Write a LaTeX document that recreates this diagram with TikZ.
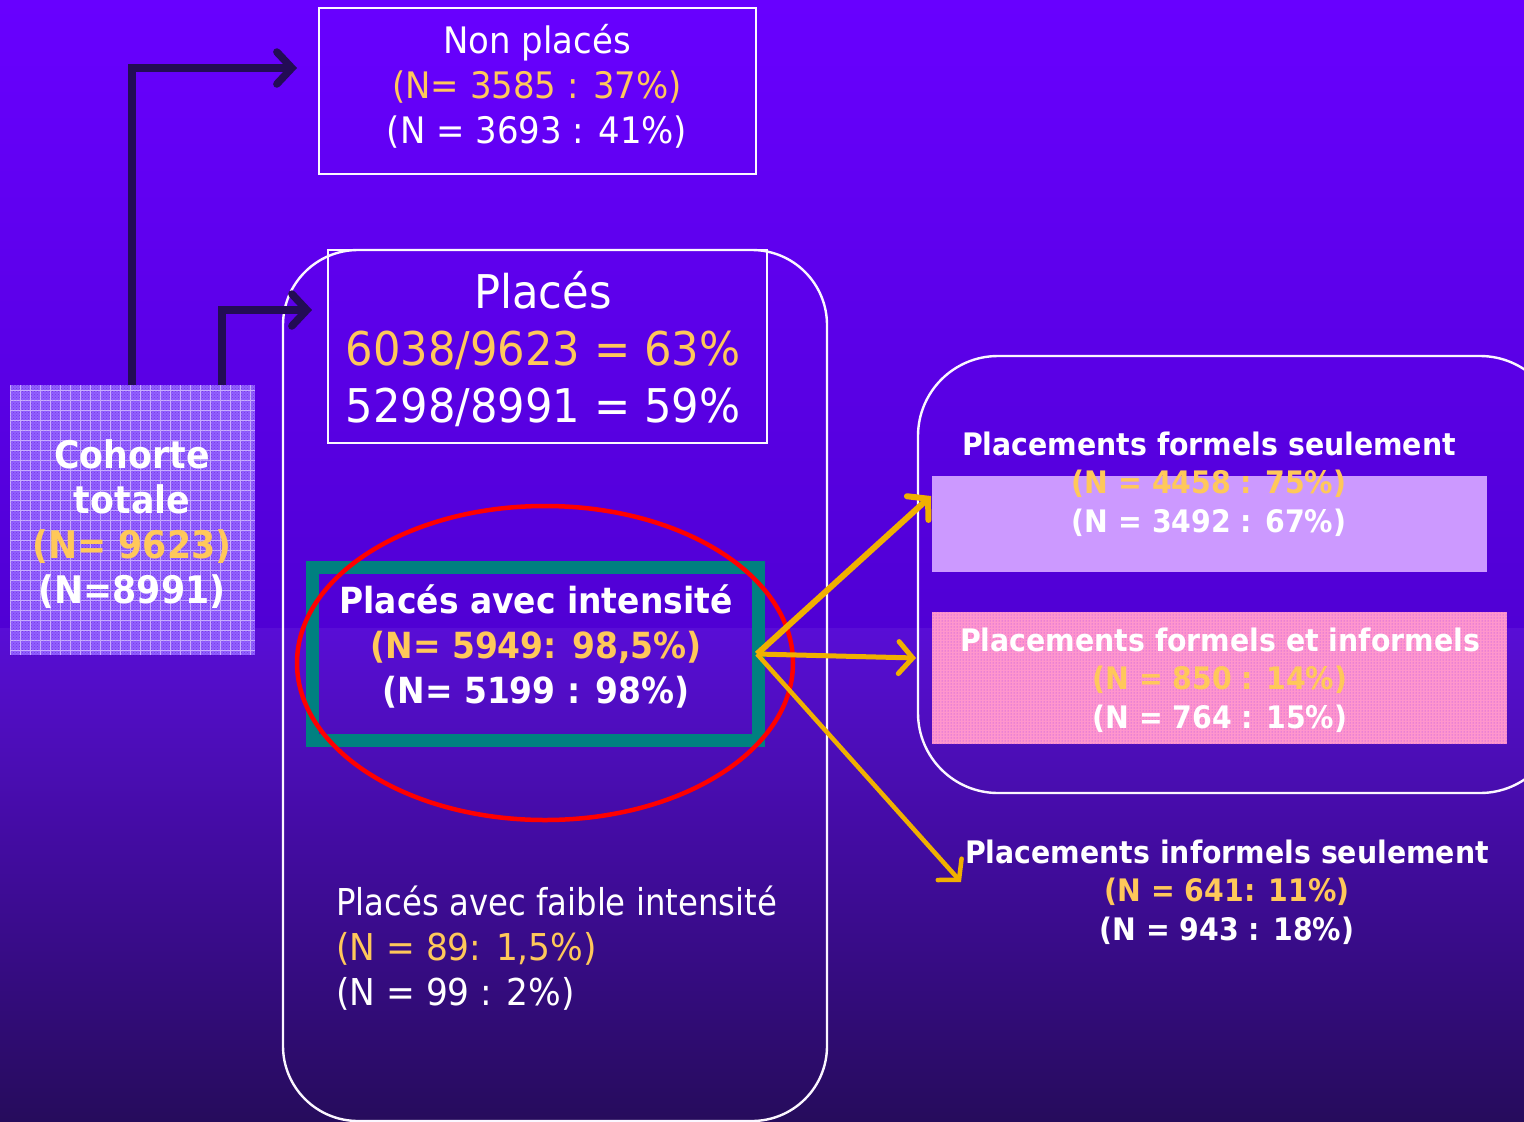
\documentclass[tikz,border=0pt]{standalone}
\usepackage{fontspec}
\setmainfont{DejaVu Sans}[FakeStretch=0.93]
\newfontfamily\bfam{DejaVu Sans Bold}[FakeStretch=0.915]
\usetikzlibrary{arrows.meta,patterns,shapes.geometric}
\definecolor{bgtop}{RGB}{104,0,255}
\definecolor{bgmid}{RGB}{80,0,212}
\definecolor{bgbot}{RGB}{38,12,92}
\definecolor{gold}{RGB}{255,200,90}
\definecolor{arrgold}{RGB}{240,176,0}
\definecolor{darkarr}{RGB}{35,12,85}
\definecolor{tealc}{RGB}{0,128,128}
\definecolor{lilac}{RGB}{204,153,255}
\definecolor{pinkc}{RGB}{255,150,205}
\definecolor{cohc}{RGB}{145,95,255}
\tikzset{
  txt/.style={inner sep=0pt, text=white, align=center},
  reg36/.style={font=\fontsize{36.5}{45}\selectfont},
  reg37/.style={font=\fontsize{37}{45}\selectfont},
  reg48/.style={font=\fontsize{46.5}{57}\selectfont},
  bold36/.style={font=\bfam\fontsize{36}{45}\selectfont},
  bold38/.style={font=\bfam\fontsize{38}{45}\selectfont},
  bold32/.style={font=\bfam\fontsize{31}{38.5}\selectfont},
  thinbox/.style={draw=white!92!lilac, line width=2.4pt},
  darkarrow/.style={draw=darkarr, line width=7.5pt, -{Straight Barb[length=15pt,width=32pt,line cap=round]}},
  goldarrow/.style={draw=arrgold, line width=6pt, -{Straight Barb[length=14pt,width=32pt,line cap=round]}}
}
\begin{document}
\begin{tikzpicture}[x=1pt,y=-1pt]
\useasboundingbox (0,0) rectangle (1524,1122);
\clip (0,0) rectangle (1524,1122);
% background
\shade[top color=bgtop, bottom color=bgmid] (0,0) rectangle (1524,628);
\shade[top color=bgmid!95!white, bottom color=bgbot] (0,628) rectangle (1524,1122);
% containers
\draw[thinbox, rounded corners=75pt] (283,250) rectangle (827,1121);
\draw[thinbox, rounded corners=80pt] (918,356) rectangle (1560,793);
% Non places box
\node[thinbox, minimum width=437pt, minimum height=166pt, inner sep=0pt] (npbox) at (537.5,91) {};
\node[txt, reg36] (nptext) at (537,86) {Non placés\\\textcolor{gold}{(N= 3585 : 37\%)}\\(N = 3693 : 41\%)};
% Places box
\node[thinbox, minimum width=439pt, minimum height=193pt, inner sep=0pt] (plbox) at (547.5,346.5) {};
\node[txt, reg48] (pltext) at (543,349) {Placés\\\textcolor{gold}{6038/9623 = 63\%}\\5298/8991 = 59\%};
% intensity box
\node[draw=tealc, line width=13pt, minimum width=446pt, minimum height=173pt, inner sep=0pt] (intbox) at (535.5,654) {};
\node[draw=red, line width=4.5pt, ellipse, minimum width=496pt, minimum height=314pt, inner sep=0pt] (ell) at (545,663) {};
\node[txt, bold36] (inttext) at (536,646) {Placés avec intensité\\\textcolor{gold}{(N= 5949: 98,5\%)}\\(N= 5199 : 98\%)};
% faible
\node[txt, reg37, align=left, anchor=west] (faible) at (336,948) {\scalebox{0.94}[1]{Placés avec faible intensité}\\\textcolor{gold}{(N = 89: 1,5\%)}\\(N = 99 : 2\%)};
% cohorte
\fill[cohc] (10,385) rectangle (255,655);
\fill[pattern=crosshatch dots, pattern color=bgtop!70!black, opacity=0.4] (10,385) rectangle (255,655);
\draw[white, opacity=0.5, line width=0.9pt, step=10pt] (10,385) grid (255,655);
\node[minimum width=245pt, minimum height=270pt, inner sep=0pt] (coh) at (132.5,520) {};
\node[txt, bold38] (cohtext) at (132,524) {Cohorte\\totale\\\textcolor{gold}{(N= 9623)}\\(N=8991)};
% lilac
\fill[lilac] (932,476) rectangle (1487,572);
\node[minimum width=555pt, minimum height=96pt, inner sep=0pt] (lil) at (1209.5,524) {};
\node[txt, bold32] (formtext) at (1209,484) {Placements formels seulement\\\textcolor{gold}{(N = 4458 : 75\%)}\\(N = 3492 : 67\%)};
% pink
\fill[pinkc] (932,612) rectangle (1507,744);
\fill[pattern=dots, pattern color=bgtop!80!pinkc, opacity=0.75] (932,612) rectangle (1507,744);
\node[minimum width=575pt, minimum height=132pt, inner sep=0pt] (pink) at (1219.5,678) {};
\node[txt, bold32] (pinktext) at (1220,680) {Placements formels et informels\\\textcolor{gold}{(N = 850 : 14\%)}\\(N = 764 : 15\%)};
% informels
\node[txt, bold32] (inftext) at (1227,892) {Placements informels seulement\\\textcolor{gold}{(N = 641: 11\%)}\\(N = 943 : 18\%)};
% dark arrows
\coordinate (c1) at (132,385);
\coordinate (c2) at (222,385);
\coordinate (t1) at (297,68);
\coordinate (t2) at (312,310);
\draw[darkarrow] (c1) |- (t1);
\draw[darkarrow] (c2) |- (t2);
% gold arrows
\coordinate (src) at (757,654);
\coordinate (g1) at (931,496);
\coordinate (g2) at (916,658);
\coordinate (g3) at (961,882);
\draw[goldarrow] (src) -- (g1);
\draw[goldarrow, line width=5pt] (src) -- (g2);
\draw[goldarrow, line width=4.5pt] (src) -- (g3);
\end{tikzpicture}
\end{document}
